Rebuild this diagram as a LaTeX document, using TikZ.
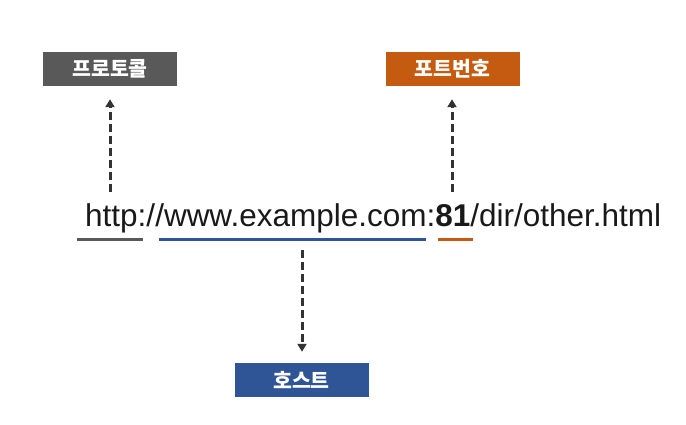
\documentclass[tikz,border=0pt]{standalone}
\usepackage{fontspec}
\setmainfont{Liberation Sans}
\newfontfamily\krfont{Noto Sans CJK KR}
\usetikzlibrary{arrows.meta}
\definecolor{protogray}{HTML}{595959}
\definecolor{portorange}{HTML}{C55A11}
\definecolor{hostblue}{HTML}{2F5597}
\definecolor{arrowdark}{HTML}{333333}
\tikzset{
  labelbox/.style={draw=none, minimum width=134pt, minimum height=34pt, inner sep=0pt,
    text=white, font=\krfont\bfseries\fontsize{20.5}{20.5}\selectfont},
  ptr/.style={arrowdark, line width=3pt, dash pattern=on 8pt off 4pt,
    -{Triangle[width=9pt,length=8pt]}},
  uline/.style={line width=3pt}
}
\begin{document}
\begin{tikzpicture}[x=1pt,y=-1pt]
\useasboundingbox (0,0) rectangle (686,424);
% label boxes
\node[labelbox, fill=protogray] (proto) at (110,69) {프로토콜};
\node[labelbox, fill=portorange] (port) at (452.5,69) {포트번호};
\node[labelbox, fill=hostblue] (host) at (301.5,380) {호스트};
% URL
\node[anchor=base west, inner sep=0pt, font=\fontsize{31.5}{31.5}\selectfont, text=black!90] (url) at (85,226)
  {http://www.example.com:\textbf{81}/dir/other.html};
% underlines
\coordinate (g1) at (77,239); \coordinate (g2) at (143,239);
\coordinate (b1) at (159,239); \coordinate (b2) at (426,239);
\coordinate (o1) at (438,239); \coordinate (o2) at (473,239);
\draw[uline, protogray] (g1) -- (g2);
\draw[uline, hostblue] (b1) -- (b2);
\draw[uline, portorange] (o1) -- (o2);
% arrow ends
\coordinate (pstart) at (110,192);
\coordinate (portstart) at (452,192);
\coordinate (hstart) at (302,250);
\draw[ptr] (pstart) -- ([yshift=-13pt]proto.south -| pstart);
\draw[ptr] (portstart) -- ([yshift=-13pt]port.south -| portstart);
\draw[ptr] (hstart) -- ([yshift=11pt]host.north -| hstart);
\end{tikzpicture}
\end{document}
